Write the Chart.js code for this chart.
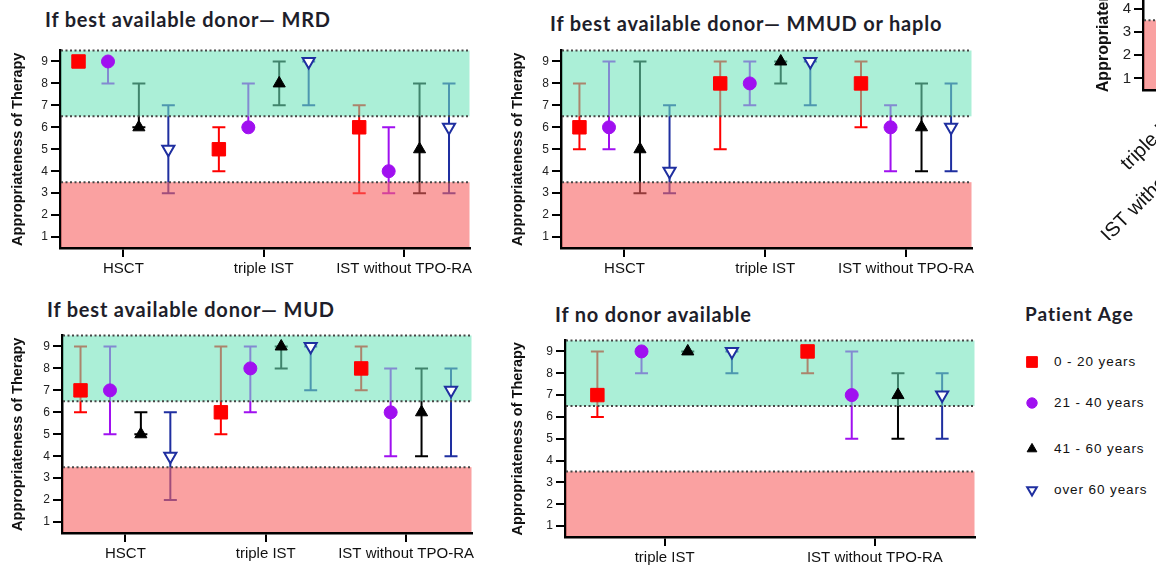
<!DOCTYPE html>
<html>
<head>
<meta charset="utf-8">
<script src="https://cdn.jsdelivr.net/npm/chart.js@4.4.1/dist/chart.umd.min.js"></script>
<style>
  html, body { margin: 0; padding: 0; background: #fff; }
  #page { position: relative; width: 1156px; height: 569px; overflow: hidden; }
  canvas { position: absolute; }
  .title { position: absolute; font-family: Lato, 'Open Sans', sans-serif; font-weight: bold; font-size: 20px; letter-spacing: 0.8px; color: #1e1e2a; white-space: nowrap; line-height: 24px; }
  .legend-row { position: absolute; left: 1018px; height: 20px; font-family: 'Liberation Sans', Arial, sans-serif; font-size: 13.5px; color: #111; line-height: 20px; white-space: nowrap; }
  .legend-row canvas { position: absolute; left: 0; top: 0; }
  .legend-row span { position: absolute; left: 36px; top: 0; letter-spacing: 0.9px; }
</style>
</head>
<body>
<div id="page">
  <div class="title" style="left:45px;top:7px">If best available donor— MRD</div>
  <div class="title" style="left:550px;top:11px">If best available donor— MMUD or haplo</div>
  <div class="title" style="left:47px;top:297px">If best available donor— MUD</div>
  <div class="title" style="left:555px;top:302px">If no donor available</div>
  <div class="title" style="left:1025px;top:302px;font-size:19px;letter-spacing:1px">Patient Age</div>

  <canvas id="mrdChart" width="480" height="240" style="left:0;top:40px"></canvas>
  <canvas id="mmudChart" width="482" height="240" style="left:500px;top:40px"></canvas>
  <canvas id="mudChart" width="482" height="240" style="left:0;top:325px"></canvas>
  <canvas id="noDonorChart" width="485" height="237" style="left:500px;top:330px"></canvas>
  <canvas id="cutChart" width="300" height="371" style="left:1080px;top:-131px"></canvas>
  <div id="legend"></div>
</div>

<script>
const ageGroups = ['0 - 20 years', '21 - 40 years', '41 - 60 years', 'over 60 years'];
const therapiesAll = ['HSCT', 'triple IST', 'IST without TPO-RA'];
const therapiesNoDonor = ['triple IST', 'IST without TPO-RA'];
const scoreTicks = [1, 2, 3, 4, 5, 6, 7, 8, 9];
const appropriateZone = [6.5, 9.5];
const inappropriateZone = [0.5, 3.5];

// one row per age group, one column per therapy
const mrdMedian = [[9, 5, 6], [9, 6, 4], [6, 8, 5], [5, 9, 6]];
const mrdLow    = [[9, 4, 3], [8, 6, 3], [6, 7, 3], [3, 7, 3]];
const mrdHigh   = [[9, 6, 7], [9, 8, 6], [8, 9, 8], [7, 9, 8]];

const mmudMedian = [[6, 8, 8], [6, 8, 6], [5, 9, 6], [4, 9, 6]];
const mmudLow    = [[5, 5, 6], [5, 7, 4], [3, 8, 4], [3, 7, 4]];
const mmudHigh   = [[8, 9, 9], [9, 9, 7], [9, 9, 8], [7, 9, 8]];

const mudMedian = [[7, 6, 8], [7, 8, 6], [5, 9, 6], [4, 9, 7]];
const mudLow    = [[6, 5, 7], [5, 6, 4], [5, 8, 4], [2, 7, 4]];
const mudHigh   = [[9, 9, 9], [9, 9, 8], [6, 9, 8], [6, 9, 8]];

const noDonorMedian = [[7, 9], [9, 7], [9, 7], [9, 7]];
const noDonorLow    = [[6, 8], [8, 5], [9, 5], [8, 5]];
const noDonorHigh   = [[9, 9], [9, 9], [9, 8], [9, 8]];

const groupOffsets = [-0.32, -0.11, 0.11, 0.32];
const groupStyles = [
    { color: '#ff0000', fill: '#ff0000', pointStyle: 'rect', radius: 9.5, rotation: 0, borderWidth: 1 },
    { color: '#a010f0', fill: '#a010f0', pointStyle: 'circle', radius: 6.5, rotation: 0, borderWidth: 1 },
    { color: '#000000', fill: '#000000', pointStyle: 'triangle', radius: 7, rotation: 0, borderWidth: 1 },
    { color: '#1f2fa0', fill: '#ffffff', pointStyle: 'triangle', radius: 7, rotation: 180, borderWidth: 2 }
];
const legendRowTops = [352, 393, 439, 480];
const capHalf = 6.5;

Chart.defaults.font.family = "'Liberation Sans', Arial, sans-serif";
Chart.defaults.color = '#111';

// zones + error bars; markers are drawn afterwards by Chart.js
const zonePlugin = {
    id: 'zones',
    beforeDatasetsDraw(chart) {
        const { ctx, chartArea: area, scales: { x, y } } = chart;
        ctx.save();
        ctx.lineWidth = 2;
        chart.data.datasets.forEach(ds => {
            ctx.strokeStyle = ds.barColor;
            ds.data.forEach((pt, i) => {
                const px = x.getPixelForValue(pt.x);
                const lo = y.getPixelForValue(ds.low[i]);
                const hi = y.getPixelForValue(ds.high[i]);
                ctx.beginPath();
                ctx.moveTo(px, lo); ctx.lineTo(px, hi);
                ctx.moveTo(px - capHalf, lo); ctx.lineTo(px + capHalf, lo);
                ctx.moveTo(px - capHalf, hi); ctx.lineTo(px + capHalf, hi);
                ctx.stroke();
            });
        });

        const fillZone = (zone, color) => {
            const top = Math.max(y.getPixelForValue(zone[1]), area.top);
            const bottom = Math.min(y.getPixelForValue(zone[0]), area.bottom - 1);
            ctx.fillStyle = color;
            ctx.fillRect(area.left + 1, top, area.right - area.left - 1, bottom - top);
        };
        fillZone(appropriateZone, 'rgba(110, 228, 186, 0.58)');
        fillZone(inappropriateZone, 'rgba(246, 98, 98, 0.6)');

        ctx.setLineDash([2, 2.5]);
        ctx.strokeStyle = '#454545';
        [appropriateZone[1], appropriateZone[0], inappropriateZone[1]].forEach(v => {
            const py = y.getPixelForValue(v);
            ctx.beginPath();
            ctx.moveTo(area.left + 1, py);
            ctx.lineTo(area.right, py);
            ctx.stroke();
        });
        ctx.restore();
    }
};

function buildDatasets(medians, lows, highs) {
    return medians.map((row, g) => {
        const s = groupStyles[g];
        return {
            label: ageGroups[g],
            data: row.map((v, i) => ({ x: i + 1 + groupOffsets[g], y: v })),
            low: lows[g],
            high: highs[g],
            barColor: s.color,
            pointStyle: s.pointStyle,
            pointRadius: s.radius,
            pointRotation: s.rotation,
            pointBackgroundColor: s.fill,
            pointBorderColor: s.color,
            pointBorderWidth: s.borderWidth,
            showLine: false
        };
    });
}

function axisOptions(p) {
    return {
        x: {
            type: 'linear',
            min: p.xMin,
            max: p.xMax,
            afterBuildTicks: scale => { scale.ticks = p.labels.map((l, i) => ({ value: i + 1 })); },
            afterFit: scale => { scale.height = p.xHeight; },
            ticks: {
                callback: v => p.labels[v - 1],
                font: { size: p.xFont || 15 },
                color: '#111',
                padding: 3,
                minRotation: p.rotation || 0,
                maxRotation: p.rotation || 0
            },
            grid: { drawOnChartArea: false, tickLength: 9, color: '#000', lineWidth: 2 },
            border: { color: '#000', width: 2.5 }
        },
        y: {
            min: 0.5,
            max: 9.5,
            afterBuildTicks: scale => { scale.ticks = scoreTicks.map(v => ({ value: v })); },
            afterFit: scale => { scale.width = p.yWidth; },
            ticks: { font: { size: p.yFont || 12 }, color: '#222', padding: 3 },
            grid: { drawOnChartArea: false, tickLength: 9, color: '#000', lineWidth: 2 },
            border: { color: '#000', width: 2.5 },
            title: {
                display: true,
                text: 'Appropriateness of Therapy',
                font: { size: p.titleFont || 14.5, weight: 'bold' },
                color: '#111',
                padding: { top: p.titlePad || 9, bottom: 0 }
            }
        }
    };
}

function createPanel(p) {
    const ctx = document.getElementById(p.id).getContext('2d');
    return new Chart(ctx, {
        type: 'scatter',
        data: { datasets: p.datasets },
        options: {
            responsive: false,
            animation: false,
            layout: { padding: { top: p.padTop, right: p.padRight, left: 0, bottom: 0 } },
            plugins: { legend: { display: false }, tooltip: { enabled: false } },
            scales: axisOptions(p)
        },
        plugins: [zonePlugin]
    });
}

function buildLegend() {
    const box = document.getElementById('legend');
    ageGroups.forEach((label, g) => {
        const s = groupStyles[g];
        const row = document.createElement('div');
        row.className = 'legend-row';
        row.style.top = legendRowTops[g] + 'px';
        const c = document.createElement('canvas');
        c.width = 28; c.height = 20;
        const ctx = c.getContext('2d');
        ctx.fillStyle = s.fill;
        ctx.strokeStyle = s.color;
        ctx.lineWidth = s.borderWidth;
        Chart.helpers.drawPoint(ctx, {
            pointStyle: s.pointStyle,
            radius: s.radius * 0.8,
            rotation: s.rotation,
            borderWidth: s.borderWidth
        }, 14, 10);
        const text = document.createElement('span');
        text.textContent = label;
        row.appendChild(c);
        row.appendChild(text);
        box.appendChild(row);
    });
}

createPanel({ id: 'mrdChart', labels: therapiesAll, xMin: 0.548, xMax: 3.466, yWidth: 60, xHeight: 32, padTop: 8, padRight: 7,
    datasets: buildDatasets(mrdMedian, mrdLow, mrdHigh) });
createPanel({ id: 'mmudChart', labels: therapiesAll, xMin: 0.549, xMax: 3.465, yWidth: 61, xHeight: 32, padTop: 9, padRight: 7,
    datasets: buildDatasets(mmudMedian, mmudLow, mmudHigh) });
createPanel({ id: 'mudChart', labels: therapiesAll, xMin: 0.548, xMax: 3.466, yWidth: 62, xHeight: 32, padTop: 8, padRight: 7,
    datasets: buildDatasets(mudMedian, mudLow, mudHigh) });
createPanel({ id: 'noDonorChart', labels: therapiesNoDonor, xMin: 0.526, xMax: 2.474, yWidth: 65, xHeight: 30, padTop: 8, padRight: 5,
    datasets: buildDatasets(noDonorMedian, noDonorLow, noDonorHigh) });
// the neighbouring figure, cut off by the page edge
createPanel({ id: 'cutChart', labels: therapiesNoDonor, xMin: 0.27, xMax: 4.83, yWidth: 63, xHeight: 150, padTop: 5, padRight: 0,
    xFont: 20, yFont: 15, titleFont: 16, titlePad: 14, rotation: 45, datasets: [] });
buildLegend();
</script>
</body>
</html>
